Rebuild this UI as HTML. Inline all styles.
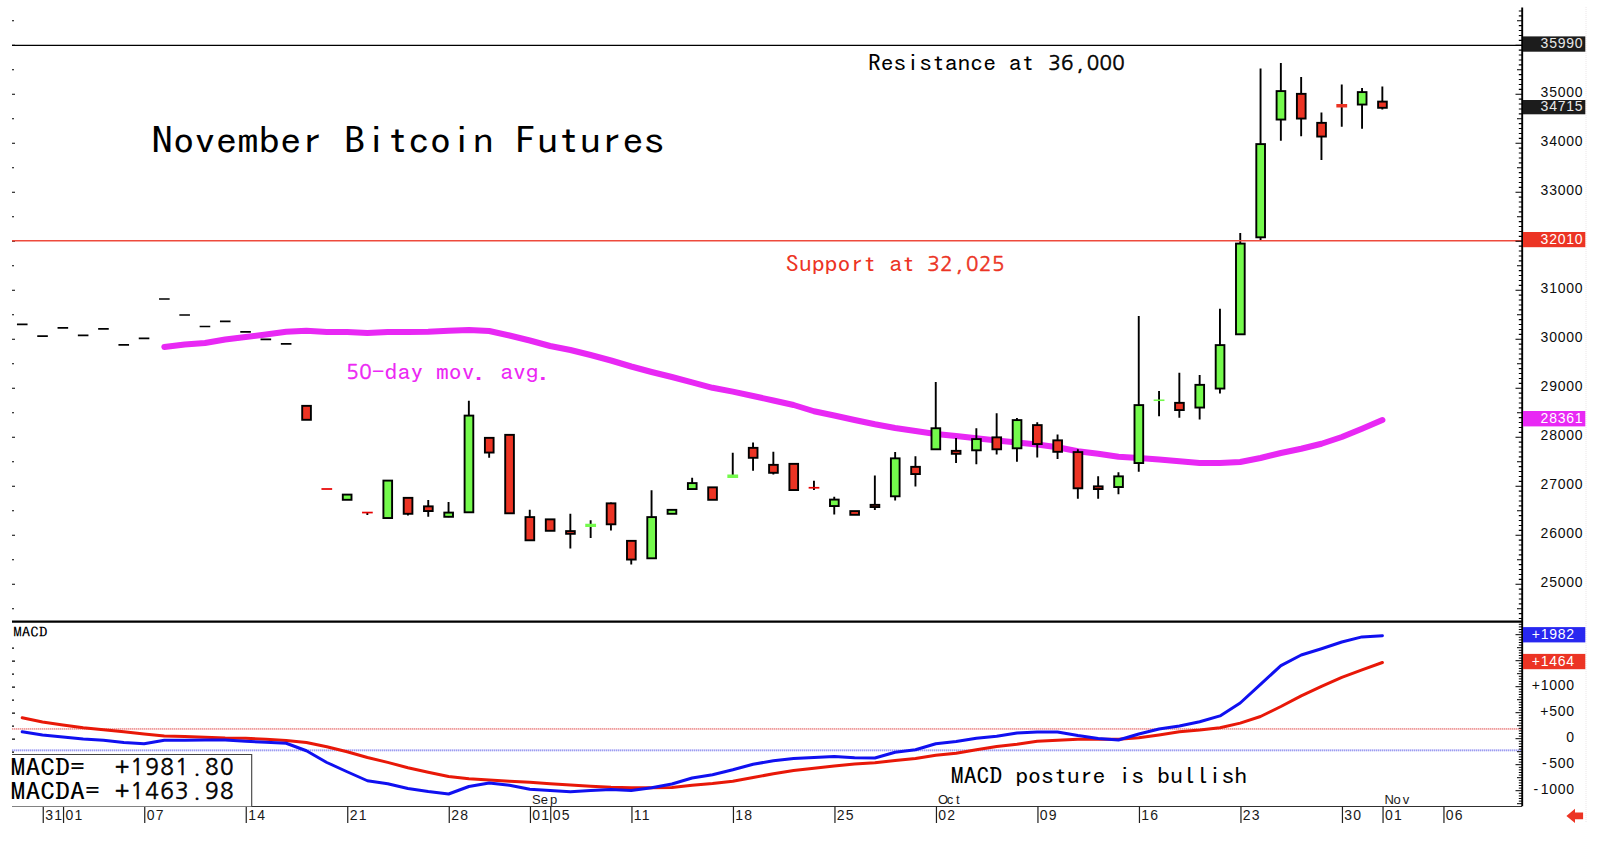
<!DOCTYPE html>
<html lang="en"><head><meta charset="utf-8"><title>November Bitcoin Futures</title>
<style>html,body{margin:0;padding:0;background:#fff;}svg{display:block;}.g{font-family:"IPAGothic","Liberation Mono",monospace;}.a{font-family:"Liberation Sans",Arial,sans-serif;}.n{font-family:"NanumGothic","Liberation Sans",sans-serif;}</style></head><body>
<svg width="1600" height="841" viewBox="0 0 1600 841">
<rect width="1600" height="841" fill="#fff"/>
<line x1="1586" y1="7" x2="1586" y2="823" stroke="#ece6e8" stroke-width="1" stroke-dasharray="1 1"/>
<line x1="12" y1="45.4" x2="1522" y2="45.4" stroke="#000" stroke-width="1.3"/>
<line x1="12" y1="728.9" x2="1522" y2="728.9" stroke="#fbdcdc" stroke-width="2"/><line x1="12" y1="728.9" x2="1522" y2="728.9" stroke="#ee9c9c" stroke-width="1.7" stroke-dasharray="1.1 0.9"/>
<line x1="12" y1="750.3" x2="1522" y2="750.3" stroke="#dcdcfb" stroke-width="2"/><line x1="12" y1="750.3" x2="1522" y2="750.3" stroke="#9c9cf0" stroke-width="1.7" stroke-dasharray="1.1 0.9"/>
<path d="M12 20.75h2 M12 45.25h3 M12 69.75h2 M12 94.25h3 M12 118.75h2 M12 143.25h3 M12 167.75h2 M12 192.25h3 M12 216.75h2 M12 241.25h3 M12 265.75h2 M12 290.25h3 M12 314.75h2 M12 339.25h3 M12 363.75h2 M12 388.25h3 M12 412.75h2 M12 437.25h3 M12 461.75h2 M12 486.25h3 M12 510.75h2 M12 535.25h3 M12 559.75h2 M12 584.25h3 M12 608.75h2" stroke="#000" stroke-width="1.2" fill="none"/>
<path d="M12 648.20h2 M12 661.20h3 M12 674.20h2 M12 687.20h3 M12 700.20h2 M12 713.20h3 M12 726.20h2 M12 739.20h3 M12 752.20h2" stroke="#000" stroke-width="1.2" fill="none"/>
<polyline points="164.3,347 184.7,344.5 205.0,343 225.2,339.5 245.6,337 265.9,334.5 286.2,331.75 306.4,330.75 326.8,332 347.1,332 367.4,333 387.7,332 407.9,332 428.2,331.75 448.6,330.75 468.9,330 489.2,331 509.5,335.5 529.8,340.5 550.1,346 570.4,350 590.6,355 611.0,360.5 631.2,366.5 651.6,372 671.9,377 692.1,382.3 712.5,387.8 732.8,391.6 753.1,396 773.4,400.5 793.6,405 814.0,411.25 834.2,415.5 854.6,420 874.9,424.25 895.1,428 915.5,431 935.8,434 956.1,436 976.4,438.25 996.7,440.5 1017.0,442.5 1037.2,444.5 1057.5,447.3 1077.9,451.25 1098.2,453.75 1118.5,456.75 1138.8,458 1159.0,459.5 1179.4,461.25 1199.7,463 1220.0,463 1240.2,462 1260.5,458 1280.9,453 1301.2,448.75 1321.5,443.75 1341.8,437 1362.0,428.75 1382.4,420" fill="none" stroke="#e828f4" stroke-width="6" stroke-linecap="round" stroke-linejoin="round"/>
<path d="M16.95 324.3h10.6 M37.25 336.2h10.6 M57.55 327.8h10.6 M77.85 335.3h10.6 M98.15 328.8h10.6 M118.45 344.8h10.6 M138.75 338.3h10.6 M159.05 299h10.6 M179.35 315h10.6 M199.65 326.5h10.6 M219.95 321.3h10.6 M240.25 331.8h10.6 M260.55 339.3h10.6 M280.85 343.8h10.6" stroke="#000" stroke-width="1.7" fill="none"/>
<path d="M367.35 512.55V515 M407.95 497V515.5 M428.25 500V516.75 M448.55 502V517.25 M468.85 400.75V512.75 M489.15 437V457.75 M529.75 509.75V540.75 M570.35 513.75V548.5 M590.65 520.25V538 M610.95 502.5V530.5 M631.25 540V564.5 M651.55 490.25V558.75 M692.15 477.75V489.5 M732.75 452.75V478 M753.05 442.5V470.75 M773.35 451.75V474.5 M813.95 480.75V490 M834.25 496.75V514.5 M874.85 475.5V510 M895.15 452V500.5 M915.45 456.25V486.5 M935.75 382V449.75 M956.05 438V463 M976.35 428.25V464.25 M996.65 413.25V454.5 M1016.95 418V461.75 M1037.25 422.25V457.5 M1057.55 434.5V459 M1077.85 449.25V498.75 M1098.15 476.25V498.75 M1118.45 472.25V494.25 M1138.75 316V471.75 M1159.05 391V416.25 M1179.35 372.75V417.75 M1199.65 375V419.5 M1219.95 308.75V393.5 M1240.25 233V334.75 M1260.55 68.5V240 M1280.85 63V140.75 M1301.15 77V136.25 M1321.45 112.5V160 M1341.75 84.5V126.75 M1362.05 88V128.75 M1382.35 86.5V109.5" stroke="#000" stroke-width="1.9" fill="none"/>
<rect x="302.20" y="405.85" width="8.70" height="13.95" fill="#ec3424" stroke="#000" stroke-width="1.9"/>
<rect x="321.45" y="488.15" width="10.7" height="1.7" fill="#e80000"/>
<rect x="342.80" y="494.60" width="8.70" height="5.20" fill="#74fa4c" stroke="#000" stroke-width="1.9"/>
<rect x="362.05" y="511.70" width="10.7" height="1.7" fill="#e80000"/>
<rect x="383.40" y="480.60" width="8.70" height="37.45" fill="#74fa4c" stroke="#000" stroke-width="1.9"/>
<rect x="403.70" y="497.85" width="8.70" height="15.95" fill="#ec3424" stroke="#000" stroke-width="1.9"/>
<rect x="424.00" y="506.35" width="8.70" height="4.70" fill="#ec3424" stroke="#000" stroke-width="1.9"/>
<rect x="444.30" y="512.60" width="8.70" height="4.20" fill="#74fa4c" stroke="#000" stroke-width="1.9"/>
<rect x="464.60" y="415.60" width="8.70" height="96.70" fill="#74fa4c" stroke="#000" stroke-width="1.9"/>
<rect x="484.90" y="437.85" width="8.70" height="14.70" fill="#ec3424" stroke="#000" stroke-width="1.9"/>
<rect x="505.20" y="434.85" width="8.70" height="78.45" fill="#ec3424" stroke="#000" stroke-width="1.9"/>
<rect x="525.50" y="517.10" width="8.70" height="23.20" fill="#ec3424" stroke="#000" stroke-width="1.9"/>
<rect x="545.80" y="519.35" width="8.70" height="11.45" fill="#ec3424" stroke="#000" stroke-width="1.9"/>
<rect x="566.10" y="531.10" width="8.70" height="2.70" fill="#ec3424" stroke="#000" stroke-width="1.9"/>
<rect x="585.25" y="523.75" width="10.8" height="3.25" fill="#74fa4c"/>
<rect x="606.70" y="503.35" width="8.70" height="20.95" fill="#ec3424" stroke="#000" stroke-width="1.9"/>
<rect x="627.00" y="540.85" width="8.70" height="18.70" fill="#ec3424" stroke="#000" stroke-width="1.9"/>
<rect x="647.30" y="517.10" width="8.70" height="41.20" fill="#74fa4c" stroke="#000" stroke-width="1.9"/>
<rect x="667.60" y="509.85" width="8.70" height="3.95" fill="#74fa4c" stroke="#000" stroke-width="1.9"/>
<rect x="687.90" y="483.10" width="8.70" height="5.95" fill="#74fa4c" stroke="#000" stroke-width="1.9"/>
<rect x="708.20" y="487.35" width="8.70" height="12.45" fill="#ec3424" stroke="#000" stroke-width="1.9"/>
<rect x="727.35" y="474.50" width="10.8" height="3.50" fill="#74fa4c"/>
<rect x="748.80" y="447.85" width="8.70" height="9.95" fill="#ec3424" stroke="#000" stroke-width="1.9"/>
<rect x="769.10" y="464.85" width="8.70" height="7.95" fill="#ec3424" stroke="#000" stroke-width="1.9"/>
<rect x="789.40" y="463.85" width="8.70" height="26.20" fill="#ec3424" stroke="#000" stroke-width="1.9"/>
<rect x="808.65" y="486.90" width="10.7" height="1.7" fill="#e80000"/>
<rect x="830.00" y="499.60" width="8.70" height="6.45" fill="#74fa4c" stroke="#000" stroke-width="1.9"/>
<rect x="850.30" y="511.10" width="8.70" height="3.70" fill="#ec3424" stroke="#000" stroke-width="1.9"/>
<rect x="870.60" y="504.85" width="8.70" height="2.20" fill="#ec3424" stroke="#000" stroke-width="1.9"/>
<rect x="890.90" y="458.35" width="8.70" height="37.95" fill="#74fa4c" stroke="#000" stroke-width="1.9"/>
<rect x="911.20" y="466.85" width="8.70" height="7.20" fill="#ec3424" stroke="#000" stroke-width="1.9"/>
<rect x="931.50" y="428.25" width="8.70" height="21.05" fill="#74fa4c" stroke="#000" stroke-width="1.9"/>
<rect x="951.80" y="450.85" width="8.70" height="2.95" fill="#ec3424" stroke="#000" stroke-width="1.9"/>
<rect x="972.10" y="439.10" width="8.70" height="11.20" fill="#74fa4c" stroke="#000" stroke-width="1.9"/>
<rect x="992.40" y="437.35" width="8.70" height="11.95" fill="#ec3424" stroke="#000" stroke-width="1.9"/>
<rect x="1012.70" y="420.10" width="8.70" height="28.20" fill="#74fa4c" stroke="#000" stroke-width="1.9"/>
<rect x="1033.00" y="425.10" width="8.70" height="18.95" fill="#ec3424" stroke="#000" stroke-width="1.9"/>
<rect x="1053.30" y="440.35" width="8.70" height="11.45" fill="#ec3424" stroke="#000" stroke-width="1.9"/>
<rect x="1073.60" y="452.10" width="8.70" height="36.20" fill="#ec3424" stroke="#000" stroke-width="1.9"/>
<rect x="1093.90" y="486.35" width="8.70" height="2.70" fill="#ec3424" stroke="#000" stroke-width="1.9"/>
<rect x="1114.20" y="476.35" width="8.70" height="10.70" fill="#74fa4c" stroke="#000" stroke-width="1.9"/>
<rect x="1134.50" y="405.10" width="8.70" height="57.95" fill="#74fa4c" stroke="#000" stroke-width="1.9"/>
<rect x="1153.65" y="399.45" width="10.8" height="1.6" fill="#74fa4c"/>
<rect x="1175.10" y="402.85" width="8.70" height="7.20" fill="#ec3424" stroke="#000" stroke-width="1.9"/>
<rect x="1195.40" y="384.85" width="8.70" height="22.70" fill="#74fa4c" stroke="#000" stroke-width="1.9"/>
<rect x="1215.70" y="345.10" width="8.70" height="43.45" fill="#74fa4c" stroke="#000" stroke-width="1.9"/>
<rect x="1236.00" y="243.60" width="8.70" height="90.70" fill="#74fa4c" stroke="#000" stroke-width="1.9"/>
<rect x="1256.30" y="144.10" width="8.70" height="93.20" fill="#74fa4c" stroke="#000" stroke-width="1.9"/>
<rect x="1276.60" y="91.10" width="8.70" height="28.45" fill="#74fa4c" stroke="#000" stroke-width="1.9"/>
<rect x="1296.90" y="93.85" width="8.70" height="24.70" fill="#ec3424" stroke="#000" stroke-width="1.9"/>
<rect x="1317.20" y="122.85" width="8.70" height="13.70" fill="#ec3424" stroke="#000" stroke-width="1.9"/>
<rect x="1336.35" y="104.00" width="10.8" height="3.50" fill="#ec3424"/>
<rect x="1357.80" y="92.10" width="8.70" height="12.45" fill="#74fa4c" stroke="#000" stroke-width="1.9"/>
<rect x="1378.10" y="101.60" width="8.70" height="6.20" fill="#ec3424" stroke="#000" stroke-width="1.9"/>
<line x1="12" y1="240.8" x2="1522" y2="240.8" stroke="#ee4a3c" stroke-width="1.4"/>
<line x1="12" y1="621.6" x2="1522" y2="621.6" stroke="#000" stroke-width="2.2"/>
<polyline points="22.2,717.75 42.5,722 62.9,725 83.2,727.75 103.5,729.75 123.8,731.75 144.1,734 164.3,736 184.7,736.5 205.0,737.25 225.2,738 245.6,738.25 265.9,739.25 286.2,740.5 306.4,742.5 326.8,746.75 347.1,751.75 367.4,757.5 387.7,762.4 407.9,767.75 428.2,772.25 448.6,776.5 468.9,778.75 489.2,780 509.5,781.25 529.8,782.25 550.1,783.75 570.4,785 590.6,786.25 611.0,787.25 631.2,787.75 651.6,787.75 671.9,787.5 692.1,785.25 712.5,783.5 732.8,781.25 753.1,777.5 773.4,773.75 793.6,770.5 814.0,768.25 834.2,766 854.6,764 874.9,762.75 895.1,760.5 915.5,758.5 935.8,755.25 956.1,753.25 976.4,749.75 996.7,746.5 1017.0,744.25 1037.2,741.25 1057.5,740.25 1077.9,739.25 1098.2,739.25 1118.5,739.25 1138.8,737.75 1159.0,734.9 1179.4,731.8 1199.7,730 1220.0,727.7 1240.2,723.1 1260.5,716.5 1280.9,706.5 1301.2,695.8 1321.5,686.3 1341.8,677.4 1362.0,669.9 1382.4,662.5" fill="none" stroke="#e81808" stroke-width="3" stroke-linecap="round" stroke-linejoin="round"/>
<polyline points="22.2,731.75 42.5,735 62.9,737 83.2,739 103.5,740.25 123.8,742.5 144.1,743.75 164.3,740.25 184.7,740.25 205.0,740 225.2,740 245.6,741.25 265.9,742.25 286.2,743.25 306.4,750.75 326.8,762.5 347.1,771.75 367.4,780.75 387.7,783.75 407.9,788.5 428.2,791.5 448.6,794 468.9,786.5 489.2,783 509.5,785.25 529.8,789.25 550.1,790.5 570.4,791.75 590.6,790.5 611.0,789.5 631.2,790.5 651.6,787.75 671.9,784 692.1,778 712.5,774.75 732.8,769.75 753.1,764.25 773.4,760.75 793.6,758.5 814.0,757.5 834.2,756.5 854.6,757.75 874.9,758 895.1,752.25 915.5,749.75 935.8,743.75 956.1,741.5 976.4,738.25 996.7,736.25 1017.0,733 1037.2,732 1057.5,732 1077.9,735.5 1098.2,738.5 1118.5,740 1138.8,734 1159.0,729 1179.4,726 1199.7,721.7 1220.0,715.9 1240.2,703 1260.5,684.3 1280.9,665.6 1301.2,655 1321.5,648.7 1341.8,642 1362.0,636.9 1382.4,635.7" fill="none" stroke="#1010f0" stroke-width="3" stroke-linecap="round" stroke-linejoin="round"/>
<line x1="1522.2" y1="7.5" x2="1522.2" y2="806.5" stroke="#000" stroke-width="1.9"/>
<path d="M1522 10.95h-3.2 M1522 15.85h-3.2 M1522 20.75h-5 M1522 25.65h-3.2 M1522 30.55h-3.2 M1522 35.45h-3.2 M1522 40.35h-3.2 M1522 45.25h-6.5 M1522 50.15h-3.2 M1522 55.05h-3.2 M1522 59.95h-3.2 M1522 64.85h-3.2 M1522 69.75h-5 M1522 74.65h-3.2 M1522 79.55h-3.2 M1522 84.45h-3.2 M1522 89.35h-3.2 M1522 94.25h-6.5 M1522 99.15h-3.2 M1522 104.05h-3.2 M1522 108.95h-3.2 M1522 113.85h-3.2 M1522 118.75h-5 M1522 123.65h-3.2 M1522 128.55h-3.2 M1522 133.45h-3.2 M1522 138.35h-3.2 M1522 143.25h-6.5 M1522 148.15h-3.2 M1522 153.05h-3.2 M1522 157.95h-3.2 M1522 162.85h-3.2 M1522 167.75h-5 M1522 172.65h-3.2 M1522 177.55h-3.2 M1522 182.45h-3.2 M1522 187.35h-3.2 M1522 192.25h-6.5 M1522 197.15h-3.2 M1522 202.05h-3.2 M1522 206.95h-3.2 M1522 211.85h-3.2 M1522 216.75h-5 M1522 221.65h-3.2 M1522 226.55h-3.2 M1522 231.45h-3.2 M1522 236.35h-3.2 M1522 241.25h-6.5 M1522 246.15h-3.2 M1522 251.05h-3.2 M1522 255.95h-3.2 M1522 260.85h-3.2 M1522 265.75h-5 M1522 270.65h-3.2 M1522 275.55h-3.2 M1522 280.45h-3.2 M1522 285.35h-3.2 M1522 290.25h-6.5 M1522 295.15h-3.2 M1522 300.05h-3.2 M1522 304.95h-3.2 M1522 309.85h-3.2 M1522 314.75h-5 M1522 319.65h-3.2 M1522 324.55h-3.2 M1522 329.45h-3.2 M1522 334.35h-3.2 M1522 339.25h-6.5 M1522 344.15h-3.2 M1522 349.05h-3.2 M1522 353.95h-3.2 M1522 358.85h-3.2 M1522 363.75h-5 M1522 368.65h-3.2 M1522 373.55h-3.2 M1522 378.45h-3.2 M1522 383.35h-3.2 M1522 388.25h-6.5 M1522 393.15h-3.2 M1522 398.05h-3.2 M1522 402.95h-3.2 M1522 407.85h-3.2 M1522 412.75h-5 M1522 417.65h-3.2 M1522 422.55h-3.2 M1522 427.45h-3.2 M1522 432.35h-3.2 M1522 437.25h-6.5 M1522 442.15h-3.2 M1522 447.05h-3.2 M1522 451.95h-3.2 M1522 456.85h-3.2 M1522 461.75h-5 M1522 466.65h-3.2 M1522 471.55h-3.2 M1522 476.45h-3.2 M1522 481.35h-3.2 M1522 486.25h-6.5 M1522 491.15h-3.2 M1522 496.05h-3.2 M1522 500.95h-3.2 M1522 505.85h-3.2 M1522 510.75h-5 M1522 515.65h-3.2 M1522 520.55h-3.2 M1522 525.45h-3.2 M1522 530.35h-3.2 M1522 535.25h-6.5 M1522 540.15h-3.2 M1522 545.05h-3.2 M1522 549.95h-3.2 M1522 554.85h-3.2 M1522 559.75h-5 M1522 564.65h-3.2 M1522 569.55h-3.2 M1522 574.45h-3.2 M1522 579.35h-3.2 M1522 584.25h-6.5 M1522 589.15h-3.2 M1522 594.05h-3.2 M1522 598.95h-3.2 M1522 603.85h-3.2 M1522 608.75h-5 M1522 613.65h-3.2 M1522 618.55h-3.2" stroke="#000" stroke-width="1.1" fill="none"/>
<path d="M1522 624.30h-3.2 M1522 626.90h-3.2 M1522 629.50h-3.2 M1522 632.10h-3.2 M1522 634.70h-6.5 M1522 637.30h-3.2 M1522 639.90h-3.2 M1522 642.50h-3.2 M1522 645.10h-3.2 M1522 647.70h-5 M1522 650.30h-3.2 M1522 652.90h-3.2 M1522 655.50h-3.2 M1522 658.10h-3.2 M1522 660.70h-6.5 M1522 663.30h-3.2 M1522 665.90h-3.2 M1522 668.50h-3.2 M1522 671.10h-3.2 M1522 673.70h-5 M1522 676.30h-3.2 M1522 678.90h-3.2 M1522 681.50h-3.2 M1522 684.10h-3.2 M1522 686.70h-6.5 M1522 689.30h-3.2 M1522 691.90h-3.2 M1522 694.50h-3.2 M1522 697.10h-3.2 M1522 699.70h-5 M1522 702.30h-3.2 M1522 704.90h-3.2 M1522 707.50h-3.2 M1522 710.10h-3.2 M1522 712.70h-6.5 M1522 715.30h-3.2 M1522 717.90h-3.2 M1522 720.50h-3.2 M1522 723.10h-3.2 M1522 725.70h-5 M1522 728.30h-3.2 M1522 730.90h-3.2 M1522 733.50h-3.2 M1522 736.10h-3.2 M1522 738.70h-6.5 M1522 741.30h-3.2 M1522 743.90h-3.2 M1522 746.50h-3.2 M1522 749.10h-3.2 M1522 751.70h-5 M1522 754.30h-3.2 M1522 756.90h-3.2 M1522 759.50h-3.2 M1522 762.10h-3.2 M1522 764.70h-6.5 M1522 767.30h-3.2 M1522 769.90h-3.2 M1522 772.50h-3.2 M1522 775.10h-3.2 M1522 777.70h-5 M1522 780.30h-3.2 M1522 782.90h-3.2 M1522 785.50h-3.2 M1522 788.10h-3.2 M1522 790.70h-6.5 M1522 793.30h-3.2 M1522 795.90h-3.2 M1522 798.50h-3.2 M1522 801.10h-3.2 M1522 803.70h-5" stroke="#000" stroke-width="1.0" fill="none"/>
<text class="a" x="1583.3" y="97.45" text-anchor="end" font-size="14" letter-spacing="0.75" fill="#0c0c0c">35000</text>
<text class="a" x="1583.3" y="146.45" text-anchor="end" font-size="14" letter-spacing="0.75" fill="#0c0c0c">34000</text>
<text class="a" x="1583.3" y="195.45" text-anchor="end" font-size="14" letter-spacing="0.75" fill="#0c0c0c">33000</text>
<text class="a" x="1583.3" y="293.45" text-anchor="end" font-size="14" letter-spacing="0.75" fill="#0c0c0c">31000</text>
<text class="a" x="1583.3" y="342.45" text-anchor="end" font-size="14" letter-spacing="0.75" fill="#0c0c0c">30000</text>
<text class="a" x="1583.3" y="391.45" text-anchor="end" font-size="14" letter-spacing="0.75" fill="#0c0c0c">29000</text>
<text class="a" x="1583.3" y="440.45" text-anchor="end" font-size="14" letter-spacing="0.75" fill="#0c0c0c">28000</text>
<text class="a" x="1583.3" y="489.45" text-anchor="end" font-size="14" letter-spacing="0.75" fill="#0c0c0c">27000</text>
<text class="a" x="1583.3" y="538.45" text-anchor="end" font-size="14" letter-spacing="0.75" fill="#0c0c0c">26000</text>
<text class="a" x="1583.3" y="587.45" text-anchor="end" font-size="14" letter-spacing="0.75" fill="#0c0c0c">25000</text>
<rect x="1523" y="36.4" width="62.3" height="15.30" fill="#1c1c1c"/>
<text class="a" x="1583.3" y="48.25" text-anchor="end" font-size="14" letter-spacing="0.75" fill="#e8e8e8">35990</text>
<rect x="1523" y="100" width="62.3" height="14.30" fill="#1c1c1c"/>
<text class="a" x="1583.3" y="111.35" text-anchor="end" font-size="14" letter-spacing="0.75" fill="#e8e8e8">34715</text>
<rect x="1523" y="232" width="62.3" height="15.20" fill="#ec3424"/>
<text class="a" x="1583.3" y="243.80" text-anchor="end" font-size="14" letter-spacing="0.75" fill="#fff">32010</text>
<rect x="1523" y="411" width="62.3" height="15.40" fill="#e828f4"/>
<text class="a" x="1583.3" y="422.90" text-anchor="end" font-size="14" letter-spacing="0.75" fill="#fff">28361</text>
<rect x="1523" y="627.1" width="62.3" height="15.30" fill="#2828f0"/>
<text class="a" x="1574.9" y="638.95" text-anchor="end" font-size="14" letter-spacing="0.75" fill="#fff">+1982</text>
<rect x="1523" y="653.9" width="62.3" height="15.30" fill="#ec3424"/>
<text class="a" x="1574.9" y="665.75" text-anchor="end" font-size="14" letter-spacing="0.75" fill="#fff">+1464</text>
<text class="a" x="1574.9" y="689.90" text-anchor="end" font-size="14" letter-spacing="0.75" fill="#0c0c0c">+1000</text>
<text class="a" x="1574.9" y="715.90" text-anchor="end" font-size="14" letter-spacing="0.75" fill="#0c0c0c">+500</text>
<text class="a" x="1574.9" y="741.90" text-anchor="end" font-size="14" letter-spacing="0.75" fill="#0c0c0c">0</text>
<text class="a" x="1574.9" y="767.90" text-anchor="end" font-size="14" letter-spacing="0.75" fill="#0c0c0c"><tspan letter-spacing="2.6">-</tspan>500</text>
<text class="a" x="1574.9" y="793.90" text-anchor="end" font-size="14" letter-spacing="0.75" fill="#0c0c0c"><tspan letter-spacing="2.6">-</tspan>1000</text>
<text class="a" x="531.95 540.85 550.05" y="803.7" font-size="13" fill="#1a1a1a">Sep</text>
<text class="a" x="937.95 946.85 956.05" y="803.7" font-size="13" fill="#1a1a1a">Oct</text>
<text class="a" x="1384.55 1393.45 1402.65" y="803.7" font-size="13" fill="#1a1a1a">Nov</text>
<rect x="0" y="806.5" width="1560" height="20" fill="#fff"/>
<line x1="12" y1="806.5" x2="1522" y2="806.5" stroke="#303030" stroke-width="1.2"/>
<path d="M43.25 806.5V823 M63.55 806.5V823 M144.75 806.5V823 M246.25 806.5V823 M347.75 806.5V823 M449.25 806.5V823 M530.45 806.5V823 M550.75 806.5V823 M631.95 806.5V823 M733.45 806.5V823 M834.95 806.5V823 M936.45 806.5V823 M1037.95 806.5V823 M1139.45 806.5V823 M1240.95 806.5V823 M1342.45 806.5V823 M1383.05 806.5V823 M1443.95 806.5V823" stroke="#202020" stroke-width="1.2" fill="none"/>
<text class="a" x="45.15" y="820.3" font-size="14" letter-spacing="1.2" fill="#1a1a1a">31</text>
<text class="a" x="65.45" y="820.3" font-size="14" letter-spacing="1.2" fill="#1a1a1a">01</text>
<text class="a" x="146.65" y="820.3" font-size="14" letter-spacing="1.2" fill="#1a1a1a">07</text>
<text class="a" x="248.15" y="820.3" font-size="14" letter-spacing="1.2" fill="#1a1a1a">14</text>
<text class="a" x="349.65" y="820.3" font-size="14" letter-spacing="1.2" fill="#1a1a1a">21</text>
<text class="a" x="451.15" y="820.3" font-size="14" letter-spacing="1.2" fill="#1a1a1a">28</text>
<text class="a" x="532.35" y="820.3" font-size="14" letter-spacing="1.2" fill="#1a1a1a">01</text>
<text class="a" x="552.65" y="820.3" font-size="14" letter-spacing="1.2" fill="#1a1a1a">05</text>
<text class="a" x="633.85" y="820.3" font-size="14" letter-spacing="1.2" fill="#1a1a1a">11</text>
<text class="a" x="735.35" y="820.3" font-size="14" letter-spacing="1.2" fill="#1a1a1a">18</text>
<text class="a" x="836.85" y="820.3" font-size="14" letter-spacing="1.2" fill="#1a1a1a">25</text>
<text class="a" x="938.35" y="820.3" font-size="14" letter-spacing="1.2" fill="#1a1a1a">02</text>
<text class="a" x="1039.85" y="820.3" font-size="14" letter-spacing="1.2" fill="#1a1a1a">09</text>
<text class="a" x="1141.35" y="820.3" font-size="14" letter-spacing="1.2" fill="#1a1a1a">16</text>
<text class="a" x="1242.85" y="820.3" font-size="14" letter-spacing="1.2" fill="#1a1a1a">23</text>
<text class="a" x="1344.35" y="820.3" font-size="14" letter-spacing="1.2" fill="#1a1a1a">30</text>
<text class="a" x="1384.95" y="820.3" font-size="14" letter-spacing="1.2" fill="#1a1a1a">01</text>
<text class="a" x="1445.85" y="820.3" font-size="14" letter-spacing="1.2" fill="#1a1a1a">06</text>
<rect x="11" y="754.4" width="240.7" height="52" fill="#fff"/><path d="M12 754.5H251.7V806.5" fill="none" stroke="#404040" stroke-width="1.1"/>
<text class="g" transform="translate(10.60,776.00) scale(1.2496,1)" font-size="23.8" fill="#000">MACD=</text>
<text class="n" x="122.17 137.10 152.03 166.96 181.89 196.82 211.75 226.68" y="774.80" text-anchor="middle" font-size="22.4" fill="#000" stroke="#000" stroke-width="0.5" stroke-linejoin="round">+1981.80</text>
<text class="g" transform="translate(10.60,800.35) scale(1.2496,1)" font-size="23.8" fill="#000">MACDA=</text>
<text class="n" x="122.17 137.10 152.03 166.96 181.89 196.82 211.75 226.68" y="799.15" text-anchor="middle" font-size="22.4" fill="#000" stroke="#000" stroke-width="0.5" stroke-linejoin="round">+1463.98</text>
<text class="g" transform="translate(13.20,637.20) scale(1.2618,1)" font-size="13.6" fill="#000">MACD</text>
<text class="g" transform="translate(151.55,154.35) scale(1.1758,1)" font-size="36.4" fill="#000">November Bitcoin Futures</text>
<text class="g" transform="translate(868.00,70.50) scale(1.1689,1)" font-size="21.9" fill="#000">Resistance at</text>
<text class="n" x="1054.50 1067.30 1080.10 1092.90 1105.70 1118.50" y="69.80" text-anchor="middle" font-size="20.5" fill="#000" stroke="#000" stroke-width="0.5" stroke-linejoin="round">36,000</text>
<text class="g" transform="translate(785.85,271.60) scale(1.1799,1)" font-size="21.9" fill="#ec3424">Support at</text>
<text class="n" x="933.58 946.50 959.42 972.34 985.26 998.18" y="270.50" text-anchor="middle" font-size="20.5" fill="#ec3424" stroke="#ec3424" stroke-width="0.5" stroke-linejoin="round">32,025</text>
<text y="378.9" fill="#ec28f4"><tspan class="n" x="352.52 365.36" text-anchor="middle" font-size="20.5" stroke="#ec28f4" stroke-width="0.5" stroke-linejoin="round">50</tspan><tspan class="g" x="371.78" dy="1.1" font-size="21.9" textLength="179.76" lengthAdjust="spacingAndGlyphs">-day mov. avg.</tspan></text>
<text class="g" transform="translate(950.75,783.90) scale(1.2056,1)" font-size="21.4" fill="#000">MACD posture is bullish</text>
<path d="M1566.4 815.9L1575 808.7V812.6H1583.1V819.2H1575V823.1Z" fill="#ec3424"/>
</svg></body></html>
